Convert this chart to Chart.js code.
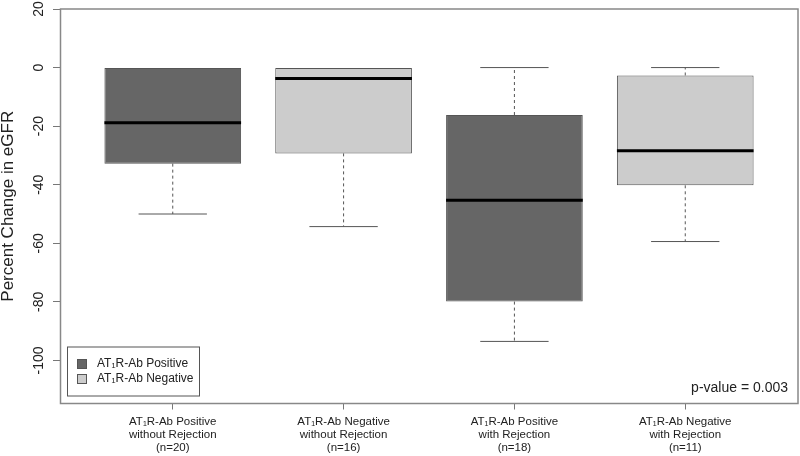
<!DOCTYPE html>
<html lang="en">
<head>
  <meta charset="UTF-8">
  <title>Percent Change in eGFR</title>
  <script src="https://cdn.jsdelivr.net/npm/chart.js"></script>
  <style>
    body { margin: 0; background: #fff; }
    #wrap { width: 800px; height: 456px; }
  </style>
</head>
<body>
  <div id="wrap"><canvas id="boxChart"></canvas></div>
  <script>
    // groups along the x axis
    const categories = [
      ['AT\u2081R-Ab Positive', 'without Rejection', '(n=20)'],
      ['AT\u2081R-Ab Negative', 'without Rejection', '(n=16)'],
      ['AT\u2081R-Ab Positive', 'with Rejection', '(n=18)'],
      ['AT\u2081R-Ab Negative', 'with Rejection', '(n=11)']
    ];
    const positions = [1, 2, 3, 4];
    const groupOf = [0, 1, 0, 1];          // 0 = positive, 1 = negative
    const groupLabels = ['AT\u2081R-Ab Positive', 'AT\u2081R-Ab Negative'];
    const groupColors = ['#666666', '#cccccc'];

    // box statistics (percent change)
    const whiskerLow  = [-50.0, -54.3, -93.5, -59.4];
    const q1          = [-32.8, -29.3, -79.9, -40.2];
    const median      = [-18.8, -3.7, -45.3, -28.4];
    const q3          = [0.0, 0.0, -16.2, -2.7];
    const whiskerHigh = [0.0, 0.0, 0.0, 0.0];

    const yTicks = [20, 0, -20, -40, -60, -80, -100];
    const pValueText = 'p-value = 0.003';

    const FONT = '"Liberation Sans", Arial, sans-serif';

    const datasets = groupLabels.map((label, g) => ({
      label: label,
      data: positions.map((p, i) => ({ x: p, y: [q1[i], q3[i]], idx: i })).filter(d => groupOf[d.idx] === g),
      backgroundColor: groupColors[g],
      borderColor: '#555555',
      borderWidth: 1,
      borderSkipped: false,
      barPercentage: 1,
      categoryPercentage: 0.8,
      grouped: false
    }));

    // whiskers, medians, frame, y tick labels, legend and p-value
    const boxExtras = {
      id: 'boxExtras',
      afterDatasetsDraw(chart) {
        const ctx = chart.ctx, y = chart.scales.y;
        ctx.save();
        chart.data.datasets.forEach((ds, di) => {
          chart.getDatasetMeta(di).data.forEach((el, k) => {
            const i = ds.data[k].idx;
            const half = el.width / 2, cap = el.width / 4;
            const yh = y.getPixelForValue(whiskerHigh[i]), yl = y.getPixelForValue(whiskerLow[i]);
            ctx.strokeStyle = '#555555';
            ctx.lineWidth = 1;
            ctx.setLineDash([3, 3]);
            ctx.beginPath();
            if (whiskerHigh[i] > q3[i]) { ctx.moveTo(el.x, y.getPixelForValue(q3[i])); ctx.lineTo(el.x, yh); }
            if (whiskerLow[i] < q1[i]) { ctx.moveTo(el.x, y.getPixelForValue(q1[i])); ctx.lineTo(el.x, yl); }
            ctx.stroke();
            ctx.setLineDash([]);
            ctx.beginPath();
            if (whiskerHigh[i] > q3[i]) { ctx.moveTo(el.x - cap, yh); ctx.lineTo(el.x + cap, yh); }
            if (whiskerLow[i] < q1[i]) { ctx.moveTo(el.x - cap, yl); ctx.lineTo(el.x + cap, yl); }
            ctx.stroke();
            ctx.strokeStyle = '#000';
            ctx.lineWidth = 3;
            ctx.beginPath();
            const ym = y.getPixelForValue(median[i]);
            ctx.moveTo(el.x - half, ym); ctx.lineTo(el.x + half, ym);
            ctx.stroke();
          });
        });
        ctx.restore();
      },
      afterDraw(chart) {
        const ctx = chart.ctx, a = chart.chartArea, y = chart.scales.y;
        ctx.save();
        // frame
        ctx.strokeStyle = '#888888';
        ctx.lineWidth = 1.5;
        ctx.strokeRect(a.left + 0.5, a.top, a.right - a.left - 0.5, a.bottom - a.top);
        // rotated y tick labels
        ctx.fillStyle = '#222';
        ctx.font = '14px ' + FONT;
        ctx.textAlign = 'center';
        ctx.textBaseline = 'middle';
        yTicks.forEach(v => {
          ctx.save();
          ctx.translate(39, y.getPixelForValue(v));
          ctx.rotate(-Math.PI / 2);
          ctx.fillText(String(v), 0, 0);
          ctx.restore();
        });
        // legend box
        const lx = a.left + 7, ly = a.bottom - 57;
        ctx.strokeStyle = '#555555';
        ctx.lineWidth = 1;
        ctx.strokeRect(lx + 0.5, ly + 0.5, 132, 49);
        ctx.font = '12px ' + FONT;
        ctx.textAlign = 'left';
        chart.data.datasets.forEach((ds, g) => {
          const cy = ly + 17.5 + g * 15;
          ctx.fillStyle = ds.backgroundColor;
          ctx.fillRect(lx + 10.5, cy - 4.5, 9, 9);
          ctx.strokeStyle = '#555555';
          ctx.strokeRect(lx + 10.5, cy - 4.5, 9, 9);
          ctx.fillStyle = '#222';
          ctx.fillText(ds.label, lx + 30, cy);
        });
        // p-value
        ctx.font = '14px ' + FONT;
        ctx.textAlign = 'right';
        ctx.textBaseline = 'alphabetic';
        ctx.fillText(pValueText, a.right - 10, a.bottom - 12);
        ctx.restore();
      }
    };

    new Chart(document.getElementById('boxChart'), {
      type: 'bar',
      data: { datasets: datasets },
      options: {
        responsive: true,
        maintainAspectRatio: false,
        animation: false,
        layout: { padding: { top: 9, right: 2, left: 0, bottom: -3.5 } },
        plugins: { legend: { display: false }, tooltip: { enabled: false } },
        scales: {
          x: {
            type: 'linear',
            min: 0.34,
            max: 4.66,
            offset: false,
            afterBuildTicks: s => { s.ticks = positions.map(v => ({ value: v })); },
            ticks: {
              autoSkip: false,
              maxRotation: 0,
              padding: 5.5,
              color: '#222',
              font: { family: FONT, size: 11.5, lineHeight: 13 / 11.5 },
              callback: v => categories[positions.indexOf(v)]
            },
            grid: { display: true, drawOnChartArea: false, offset: false, tickLength: 6, color: '#777777' },
            border: { display: false }
          },
          y: {
            min: -114.7,
            max: 20,
            afterBuildTicks: s => { s.ticks = yTicks.map(v => ({ value: v })); },
            ticks: { display: false },
            grid: { display: true, drawOnChartArea: false, tickLength: 7, color: '#777777' },
            border: { display: false },
            title: {
              display: true,
              text: 'Percent Change in eGFR',
              color: '#222',
              font: { family: FONT, size: 17, lineHeight: 1 },
              padding: { top: 0, bottom: 36 }
            }
          }
        }
      },
      plugins: [boxExtras]
    });
  </script>
</body>
</html>
